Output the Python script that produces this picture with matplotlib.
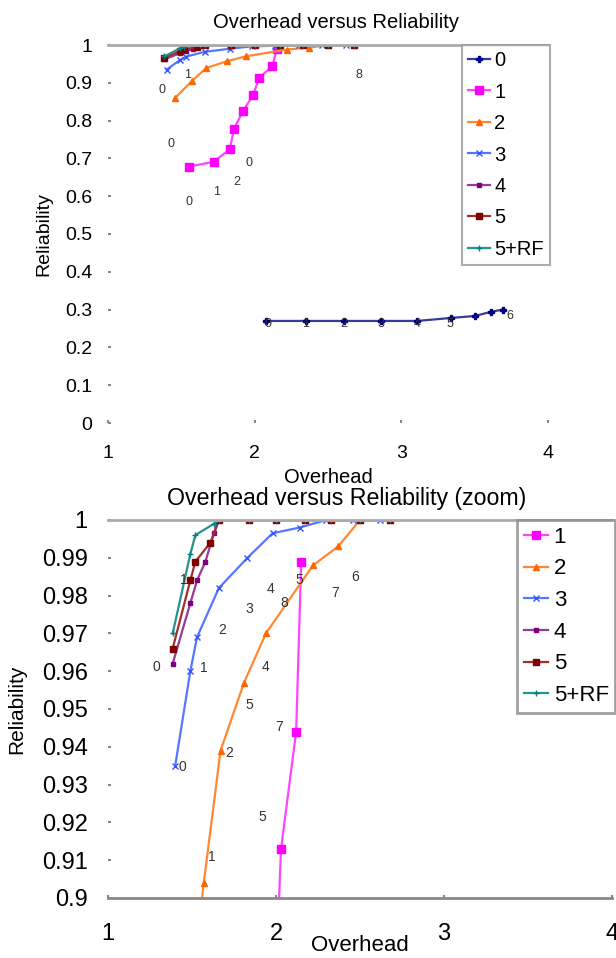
import matplotlib.pyplot as plt
from matplotlib.ticker import FuncFormatter

plt.rcParams['font.family'] = ['Liberation Sans', 'DejaVu Sans']

# ── Data ──────────────────────────────────────────────────────────────────
labels = ['0', '1', '2', '3', '4', '5', '5+RF']

x0 = [2.08, 2.35, 2.61, 2.86, 3.11, 3.34, 3.50, 3.61, 3.69]
y0 = [0.270, 0.270, 0.270, 0.270, 0.270, 0.278, 0.283, 0.294, 0.300]

x1 = [1.55, 1.72, 1.83, 1.86, 1.92, 1.99, 2.03, 2.12, 2.15]
y1 = [0.678, 0.691, 0.724, 0.779, 0.825, 0.868, 0.913, 0.944, 0.989]

x2 = [1.46, 1.57, 1.67, 1.81, 1.94, 2.22, 2.37, 2.50, 2.68]
y2 = [0.861, 0.904, 0.939, 0.957, 0.970, 0.988, 0.993, 1.0, 1.0]

x3 = [1.40, 1.49, 1.53, 1.66, 1.83, 1.98, 2.14, 2.30, 2.46, 2.62]
y3 = [0.935, 0.960, 0.969, 0.982, 0.990, 0.9965, 0.998, 1.0, 1.0, 1.0]

x4 = [1.385, 1.49, 1.53, 1.58, 1.63, 1.66, 1.84, 2.00, 2.17, 2.33, 2.50, 2.68]
y4 = [0.962, 0.978, 0.984, 0.989, 0.9965, 1.0, 1.0, 1.0, 1.0, 1.0, 1.0, 1.0]

x5 = [1.385, 1.49, 1.52, 1.61, 1.66, 1.84, 2.00, 2.17, 2.33, 2.50, 2.68]
y5 = [0.966, 0.984, 0.989, 0.994, 1.0, 1.0, 1.0, 1.0, 1.0, 1.0, 1.0]

x6 = [1.385, 1.49, 1.52, 1.63, 1.66, 1.84, 2.00, 2.17, 2.33, 2.50, 2.68]
y6 = [0.970, 0.991, 0.996, 0.999, 1.0, 1.0, 1.0, 1.0, 1.0, 1.0, 1.0]

# stray data labels (text, overhead, reliability)
top_notes = [('0', 1.37, 0.881), ('1', 1.54, 0.921), ('0', 1.43, 0.738),
             ('0', 1.96, 0.687), ('2', 1.88, 0.637), ('1', 1.74, 0.612),
             ('0', 1.55, 0.585), ('8', 2.71, 0.921),
             ('0', 2.09, 0.262), ('1', 2.35, 0.262), ('2', 2.61, 0.262),
             ('3', 2.86, 0.262), ('4', 3.11, 0.262), ('5', 3.33, 0.262),
             ('6', 3.74, 0.283)]
bot_notes = [('0', 1.29, 0.9612), ('1', 1.45, 0.9841), ('1', 1.57, 0.9608),
             ('2', 1.68, 0.9709), ('3', 1.84, 0.9764), ('4', 1.97, 0.9817),
             ('8', 2.05, 0.9780), ('5', 2.14, 0.9841), ('6', 2.47, 0.9848),
             ('7', 2.35, 0.9806), ('4', 1.94, 0.9612), ('5', 1.84, 0.9511),
             ('0', 1.44, 0.9347), ('2', 1.72, 0.9384), ('7', 2.02, 0.9453),
             ('5', 1.92, 0.9215), ('1', 1.62, 0.9109)]

# ── Styles ────────────────────────────────────────────────────────────────
styles = {
    '0':    dict(color='#3a3a9a', mfc='#000080', mec='#000080', marker='P', ms=5),
    '1':    dict(color='#ff44ff', mfc='#ff00ff', mec='#ff00ff', marker='s', ms=6),
    '2':    dict(color='#ff8833', mfc='#ff6600', mec='#ff6600', marker='^', ms=4),
    '3':    dict(color='#5577ff', mfc='#3355ff', mec='#3355ff', marker='x', ms=4),
    '4':    dict(color='#9a3a9a', mfc='#800080', mec='#800080', marker='s', ms=3.5),
    '5':    dict(color='#a03030', mfc='#800000', mec='#800000', marker='s', ms=4),
    '5+RF': dict(color='#2a9090', mfc='#008080', mec='#008080', marker='+', ms=5),
}
series = [(x0, y0), (x1, y1), (x2, y2), (x3, y3), (x4, y4), (x5, y5), (x6, y6)]

fig = plt.figure(figsize=(6.16, 9.58), dpi=100)
ax1 = fig.add_axes([108/616, 1 - 423/958, 440/616, 378/958])
ax2 = fig.add_axes([108/616, 1 - 898/958, 504/616, 378/958])


def style_axes(ax, show_bottom):
    for s in ['left', 'right']:
        ax.spines[s].set_visible(False)
    ax.spines['top'].set_color('#aaaaaa')
    ax.spines['top'].set_linewidth(2)
    ax.spines['bottom'].set_visible(show_bottom)
    ax.spines['bottom'].set_color('#888888')
    ax.spines['bottom'].set_linewidth(2)
    ax.tick_params(axis='both', length=2, width=1.5, color='#888888',
                   direction='in')


# ── Top chart ─────────────────────────────────────────────────────────────
for lab, (xs, ys) in zip(labels, series):
    ax1.plot(xs, ys, lw=1.6, label=lab, **styles[lab])
ax1.set_xlim(1, 4)
ax1.set_ylim(0, 1)
ax1.set_xticks([1, 2, 3, 4])
ax1.set_yticks([i / 10 for i in range(11)])
ax1.yaxis.set_major_formatter(FuncFormatter(lambda v, p: f'{v:g}'))
style_axes(ax1, False)
ax1.tick_params(axis='y', labelsize=14, pad=11.5)
ax1.tick_params(axis='x', labelsize=14, pad=16)
for t, xx, yy in top_notes:
    ax1.text(xx, yy, t, fontsize=9, color='#333333', ha='center', va='center')
ax1.set_title('Overhead versus Reliability', fontsize=14.5, pad=12, x=0.518)
ax1.set_xlabel('Overhead', fontsize=14.5, labelpad=4)
ax1.set_ylabel('Reliability', fontsize=14, labelpad=9)
leg1 = ax1.legend(loc='upper left', bbox_to_anchor=(0.805, 1.0), borderaxespad=0,
                  fancybox=False, edgecolor='#999999', fontsize=14.5,
                  handlelength=1.1, labelspacing=0.62, borderpad=0.3,
                  handletextpad=0.2)
leg1.get_frame().set_linewidth(1.5)

# ── Bottom chart (zoom) ───────────────────────────────────────────────────
for lab, (xs, ys) in zip(labels[1:], series[1:]):
    ax2.plot(xs, ys, lw=1.6, label=lab, **styles[lab])
ax2.set_xlim(1, 4)
ax2.set_ylim(0.9, 1)
ax2.set_xticks([1, 2, 3, 4])
ax2.set_yticks([0.9 + i / 100 for i in range(11)])
ax2.yaxis.set_major_formatter(FuncFormatter(lambda v, p: f'{round(v, 2):g}'))
style_axes(ax2, True)
ax2.tick_params(axis='y', labelsize=17, pad=14.5)
ax2.tick_params(axis='x', labelsize=17, pad=18)
for t, xx, yy in bot_notes:
    ax2.text(xx, yy, t, fontsize=10, color='#333333', ha='center', va='center')
ax2.set_title('Overhead versus Reliability (zoom)', fontsize=16.7, pad=11, x=0.474)
ax2.set_xlabel('Overhead', fontsize=16, labelpad=-7)
ax2.set_ylabel('Reliability', fontsize=15, labelpad=11)
leg2 = ax2.legend(loc='upper left', bbox_to_anchor=(0.8115, 1.0), borderaxespad=0,
                  fancybox=False, edgecolor='#888888', fontsize=16,
                  handlelength=1.1, labelspacing=0.48, borderpad=0.3,
                  handletextpad=0.25)
leg2.get_frame().set_linewidth(2)

fig.savefig('out.png', dpi=100, facecolor='white')
